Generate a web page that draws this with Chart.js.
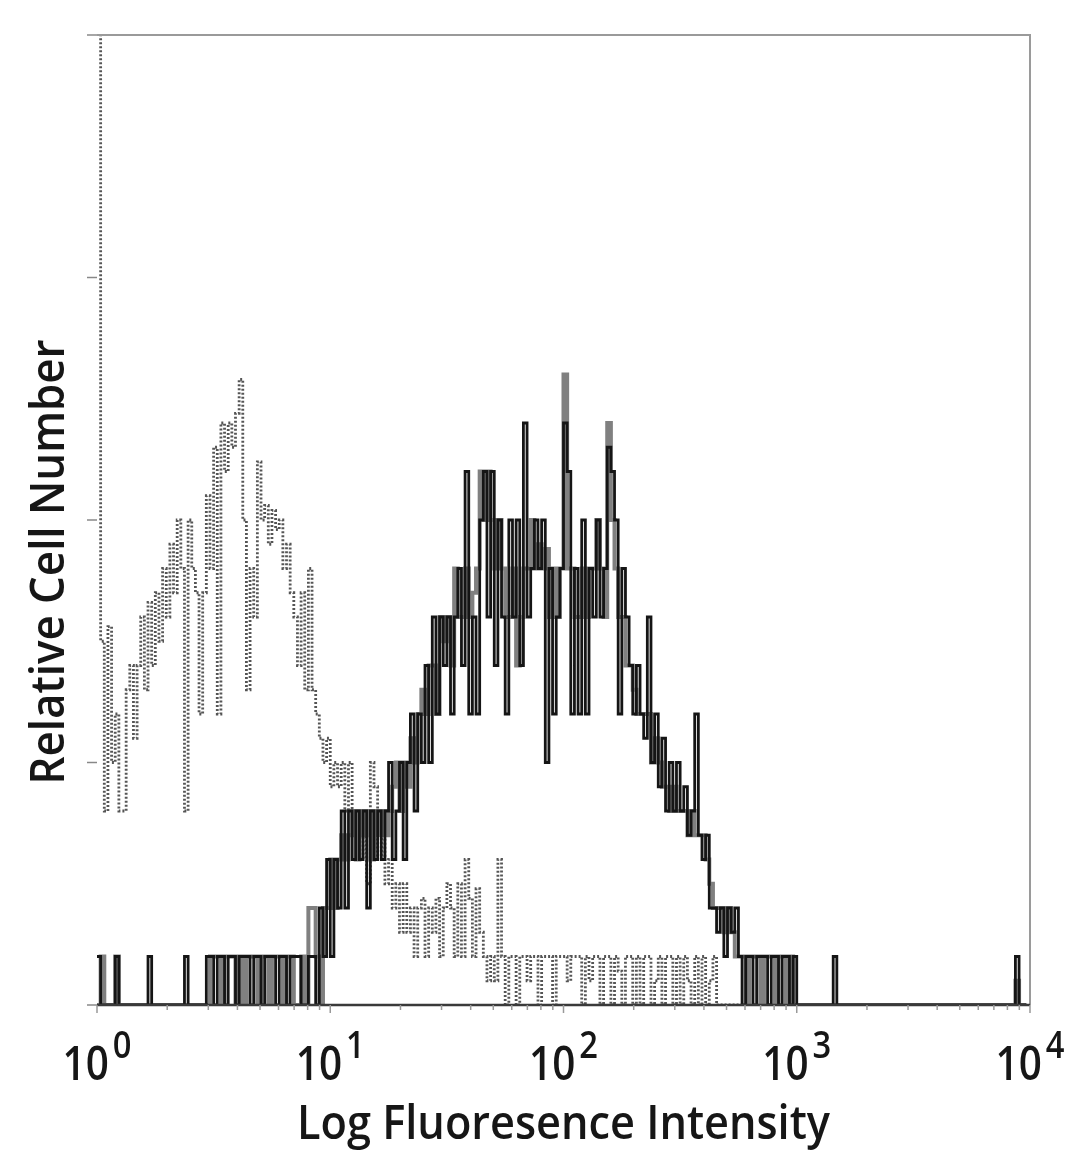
<!DOCTYPE html>
<html>
<head>
<meta charset="utf-8">
<title>Relative Cell Number vs Log Fluoresence Intensity</title>
<script src="https://cdn.jsdelivr.net/npm/chart.js@4.4.1/dist/chart.umd.min.js"></script>
<style>
    html, body { margin: 0; padding: 0; background: #fff; }
    #wrap { position: relative; width: 1080px; height: 1169px; }
</style>
</head>
<body>
<div id="wrap"><canvas id="histo"></canvas></div>
<script>
// ============================================================
// DATA — flow histogram, 64 channels per decade (10^0 .. 10^4)
// ============================================================
const CHANNELS_PER_DECADE = 64;

const X_TICK_VALUES = [1, 10, 100, 1000, 10000];
const X_TICK_EXPONENTS = ['0', '1', '2', '3', '4'];
const Y_TICK_VALUES = [0, 5, 10, 15, 20];

const X_TITLE = 'Log Fluoresence Intensity';
const Y_TITLE = 'Relative Cell Number';

// Stained sample (black trace), counts per channel
const sampleCounts = [
    1, 0, 0, 0, 0, 1, 0, 0, 0, 0, 0, 0, 0, 0, 1, 0,
    0, 0, 0, 0, 0, 0, 0, 0, 1, 0, 0, 0, 0, 0, 1, 1,
    0, 1, 1, 0, 1, 1, 0, 1, 1, 1, 0, 1, 1, 0, 1, 1,
    1, 0, 1, 1, 0, 1, 1, 1, 0, 0, 1, 1, 0, 2, 1, 3,
    1, 3, 2, 4, 2, 4, 3, 4, 3, 4, 2, 4, 3, 4, 3, 4,
    5, 3, 4, 5, 3, 5, 6, 4, 6, 5, 7, 5, 8, 6, 8, 7,
    8, 6, 8, 9, 7, 11, 6, 8, 6, 10, 11, 8, 11, 7, 10, 8,
    6, 10, 8, 10, 7, 12, 8, 9, 10, 9, 10, 5, 9, 6, 8, 9,
    12, 11, 6, 9, 6, 10, 6, 9, 8, 10, 8, 9, 11.5, 11, 10, 6,
    9, 8, 7, 6, 7, 6, 5.5, 8, 5, 6, 4.5, 5.5, 4, 5, 4, 5,
    4, 4.5, 3.5, 4, 6, 3.5, 3, 3.5, 2, 2, 1.5, 2, 1, 2, 1.5, 2,
    1, 0, 1, 1, 0, 1, 1, 1, 0, 1, 1, 0, 1, 1, 0, 1,
    0, 0, 0, 0, 0, 0, 0, 0, 0, 0, 1, 0, 0, 0, 0, 0,
    0, 0, 0, 0, 0, 0, 0, 0, 0, 0, 0, 0, 0, 0, 0, 0,
    0, 0, 0, 0, 0, 0, 0, 0, 0, 0, 0, 0, 0, 0, 0, 0,
    0, 0, 0, 0, 0, 0, 0, 0, 0, 0, 0, 0, 1, 0, 0, 0
];

// Overlaid replicate of the stained sample (grey trace)
const replicateCounts = [
    0, 1, 0, 0, 0, 1, 0, 0, 0, 0, 0, 0, 0, 0, 0, 0,
    0, 0, 0, 0, 0, 0, 0, 0, 0, 0, 0, 0, 0, 0, 0, 1,
    1, 1, 0, 1, 1, 1, 0, 1, 0, 1, 1, 1, 0, 1, 1, 0,
    1, 1, 1, 0, 1, 1, 0, 0, 1, 0, 2, 2, 1, 0, 2, 2,
    3, 2, 3, 3.5, 3, 3.5, 4, 3, 4, 3.5, 4, 3, 4, 3.5, 4, 3.5,
    4, 4.5, 5, 4, 5, 4.5, 5.5, 5, 6, 6.5, 6, 7, 7, 6, 8, 7.5,
    8, 7, 9, 8, 8, 9, 8, 8.5, 9, 11, 10, 11, 10, 9, 10, 9,
    8, 8, 9, 7, 8, 9, 9, 10, 9, 9.5, 9, 9.4, 8, 9, 8, 9,
    13, 9, 9, 8, 8, 9, 8, 9, 9, 10, 9, 8, 12, 10, 9, 8,
    8, 7, 7, 6.5, 6, 6, 6, 6, 5, 5.5, 5, 4.5, 4.5, 4, 4.5, 4,
    4, 4, 3.5, 4, 3.5, 3.5, 3.5, 3, 2.5, 2, 2, 2, 1.5, 2, 1.5, 1,
    1, 1, 0, 1, 1, 1, 0, 1, 1, 1, 0, 1, 1, 0, 1, 0,
    0, 0, 0, 0, 0, 0, 0, 0, 0, 0, 0, 0, 0, 0, 0, 0,
    0, 0, 0, 0, 0, 0, 0, 0, 0, 0, 0, 0, 0, 0, 0, 0,
    0, 0, 0, 0, 0, 0, 0, 0, 0, 0, 0, 0, 0, 0, 0, 0,
    0, 0, 0, 0, 0, 0, 0, 0, 0, 0, 0, 0, 0.5, 0, 0, 0
];

// Isotype control (dotted trace); first channel is off scale
const isotypeCounts = [
    30, 7.5, 4, 7.8, 5, 6, 4, 4, 6.5, 7, 5.5, 7, 8, 6.5, 8.3, 7,
    8.5, 7.5, 9, 8, 9.5, 8.5, 10, 9, 4, 10, 9, 8.5, 6, 8.5, 10.5, 9,
    11.5, 6, 12, 11, 12, 11.5, 12.2, 12.9, 10, 6.5, 9, 8, 11.2, 10, 10.3, 9.5,
    10.2, 9.8, 10, 9, 9.5, 8.5, 8, 7, 8.5, 6.5, 9, 6.5, 6, 5.5, 5, 5.5,
    4.5, 5, 4.5, 5, 4, 5, 4, 3.8, 3, 3.5, 2.5, 5, 4.5, 3, 3.5, 2.5,
    3, 2, 2.5, 1.5, 2.5, 1.5, 2, 1, 2, 2.2, 1, 2, 1.5, 2.2, 1, 2,
    2.5, 2, 1, 2.5, 1, 3, 2.2, 1, 2.4, 1.5, 1, 0.5, 1, 0.5, 3, 1,
    0, 1, 1, 0, 1, 1, 0.5, 1, 1, 0, 1, 1, 1, 0, 1, 1,
    1, 0.5, 1, 1, 1, 0, 1, 0.5, 1, 1, 0, 1, 1, 0, 1, 0.7,
    0, 1, 1, 0, 1, 0, 1, 1, 0, 0.5, 1, 0, 1, 1, 0, 1,
    0, 1, 0.5, 0, 1, 0, 1, 0, 0.5, 1, 0, 0, 0, 0, 0, 0,
    0, 0, 0, 0, 0, 0, 0, 0, 0, 0, 0, 0, 0, 0, 0, 0
];

// Channel index -> fluorescence value (left edge of the bin)
function toPoints(counts) {
    return counts.map((c, ch) => ({ x: Math.pow(10, ch / CHANNELS_PER_DECADE), y: c }));
}

// ============================================================
// TEXT HELPERS — narrow lettering like the original scan
// ============================================================
const FONT = '"Open Sans", "DejaVu Sans", sans-serif';

function fillFitted(ctx, text, width) {
    const w = ctx.measureText(text).width;
    ctx.save();
    ctx.scale(width / w, 1);
    ctx.textAlign = 'center';
    ctx.fillText(text, 0, 0);
    ctx.restore();
}

function fillSqueezed(ctx, text, x, y, sx) {
    ctx.save();
    ctx.translate(x, y);
    ctx.scale(sx, 1);
    ctx.textAlign = 'left';
    ctx.fillText(text, 0, 0);
    ctx.restore();
}

// ============================================================
// FRAME, TICKS AND LABELS
// ============================================================
const frameAndLabels = {
    id: 'frameAndLabels',
    afterDatasetsDraw(chart) {
        const { ctx, chartArea: a, scales: { x, y } } = chart;
        ctx.save();

        // grey top + right border
        ctx.lineWidth = 2;
        ctx.strokeStyle = '#9a9a9a';
        ctx.beginPath();
        ctx.moveTo(a.left, a.top);
        ctx.lineTo(a.right, a.top);
        ctx.lineTo(a.right, a.bottom);
        ctx.stroke();

        // dark baseline
        ctx.strokeStyle = '#3a3a3a';
        ctx.lineWidth = 2.5;
        ctx.beginPath();
        ctx.moveTo(a.left, a.bottom);
        ctx.lineTo(a.right, a.bottom);
        ctx.stroke();

        // y ticks (no labels)
        ctx.strokeStyle = '#888';
        ctx.lineWidth = 1.5;
        Y_TICK_VALUES.forEach(v => {
            const py = y.getPixelForValue(v);
            ctx.beginPath();
            ctx.moveTo(a.left - 10, py);
            ctx.lineTo(a.left, py);
            ctx.stroke();
        });

        // x ticks: decades + minor 2..9
        ctx.strokeStyle = '#999';
        for (let d = 0; d < X_TICK_VALUES.length; d++) {
            const base = X_TICK_VALUES[d];
            const px = x.getPixelForValue(base);
            ctx.beginPath();
            ctx.moveTo(px, a.bottom);
            ctx.lineTo(px, a.bottom + 8);
            ctx.stroke();
            if (d === X_TICK_VALUES.length - 1) break;
            for (let m = 2; m <= 9; m++) {
                const mx = x.getPixelForValue(base * m);
                ctx.beginPath();
                ctx.moveTo(mx, a.bottom);
                ctx.lineTo(mx, a.bottom + 5);
                ctx.stroke();
            }
        }

        // x tick labels 10^n
        ctx.fillStyle = '#161616';
        ctx.textBaseline = 'alphabetic';
        const sx = 0.86;
        X_TICK_VALUES.forEach((v, i) => {
            const px = x.getPixelForValue(v);
            ctx.font = `600 47px ${FONT}`;
            const w10 = ctx.measureText('10').width * sx;
            ctx.font = `600 38px ${FONT}`;
            const wExp = ctx.measureText(X_TICK_EXPONENTS[i]).width * sx;
            const start = px - (w10 + 4 + wExp) / 2;
            ctx.font = `600 47px ${FONT}`;
            fillSqueezed(ctx, '10', start, 1080, sx);
            ctx.font = `600 38px ${FONT}`;
            fillSqueezed(ctx, X_TICK_EXPONENTS[i], start + w10 + 4, 1058, sx);
        });

        // axis titles
        ctx.font = `600 47px ${FONT}`;
        ctx.save();
        ctx.translate((a.left + a.right) / 2, 1139);
        fillFitted(ctx, X_TITLE, 533);
        ctx.restore();

        ctx.save();
        ctx.translate(64, 562);
        ctx.rotate(-Math.PI / 2);
        fillFitted(ctx, Y_TITLE, 445);
        ctx.restore();

        ctx.restore();
    }
};

// ============================================================
// CHART
// ============================================================
const ctx = document.getElementById('histo').getContext('2d');
const histoChart = new Chart(ctx, {
    type: 'line',
    data: {
        datasets: [
            {
                label: 'Sample',
                data: toPoints(sampleCounts),
                stepped: true,
                borderColor: '#151515',
                borderWidth: 2.8,
                fill: false
            },
            {
                label: 'Replicate',
                data: toPoints(replicateCounts),
                stepped: true,
                borderColor: '#808080',
                borderWidth: 4,
                fill: false
            },
            {
                label: 'Isotype control',
                data: toPoints(isotypeCounts),
                stepped: true,
                borderColor: '#555555',
                borderWidth: 2.8,
                borderDash: [2, 2],
                fill: false
            }
        ]
    },
    options: {
        responsive: true,
        maintainAspectRatio: false,
        animation: false,
        layout: { padding: { left: 97, right: 50, top: 35, bottom: 164 } },
        elements: { point: { radius: 0 }, line: { tension: 0 } },
        plugins: {
            legend: { display: false },
            tooltip: { enabled: false }
        },
        scales: {
            x: { type: 'logarithmic', min: 1, max: 10000, display: false },
            y: { type: 'linear', min: 0, max: 20, display: false }
        }
    },
    plugins: [frameAndLabels]
});
</script>
</body>
</html>
